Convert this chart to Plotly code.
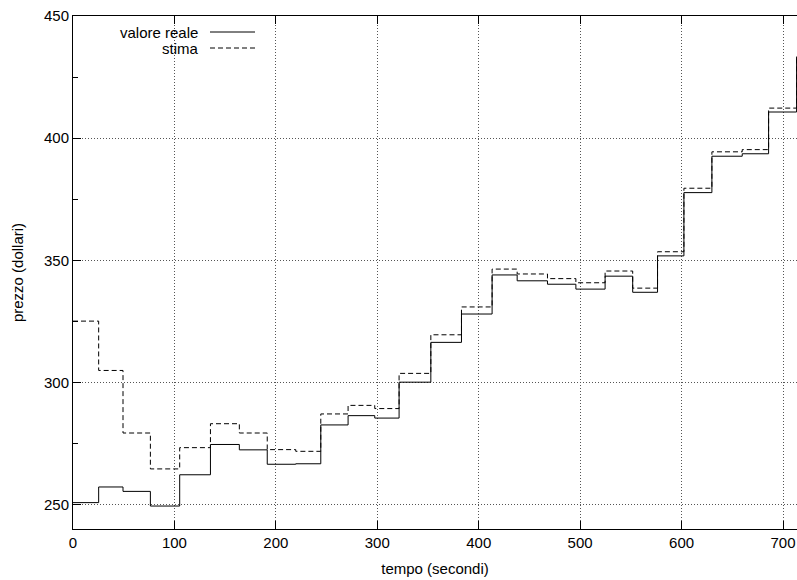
import plotly.graph_objects as go

# Sampling instants (seconds) at which the price is updated
tempo = [0, 25.3, 49.3, 76.3, 105.2, 135.5, 164.0, 191.5, 219.6, 244.3, 271.2,
         297.5, 321.5, 352.8, 383.0, 413.2, 437.9, 467.8, 495.8, 524.6, 551.8,
         576.3, 602.3, 629.9, 659.8, 685.8, 713.4]

# Real price (dollars)
valore_reale = [250.8, 257.2, 255.4, 249.4, 262.2, 274.6, 272.4, 266.5, 266.7,
                282.6, 286.4, 285.4, 300.1, 316.4, 328.0, 344.0, 341.6, 340.2,
                338.2, 343.5, 336.9, 351.8, 377.7, 392.6, 393.6, 410.7, 433.4]

# Estimated price (dollars)
stima = [325.1, 304.9, 279.3, 264.6, 273.3, 283.1, 279.3, 272.5, 271.8, 287.1,
         290.6, 289.3, 303.7, 319.5, 330.9, 346.4, 344.4, 342.5, 340.8, 345.6,
         338.6, 353.5, 379.5, 394.4, 395.3, 412.3, 433.4]

x_ticks = [0, 100, 200, 300, 400, 500, 600, 700]
y_ticks = [250, 300, 350, 400, 450]
x_range = [0, 713.8]
y_range = [240, 450]

legend_labels = ["valore reale", "stima"]

FONT = "Liberation Sans, Arial, Helvetica, sans-serif"
W, H = 797, 580
M_L, M_R, M_T, M_B = 73, 0, 16, 51

fig = go.Figure()
fig.add_trace(go.Scatter(x=tempo, y=valore_reale, mode="lines", name=legend_labels[0],
                         line=dict(shape="hv", color="black", width=1),
                         showlegend=False))
fig.add_trace(go.Scatter(x=tempo, y=stima, mode="lines", name=legend_labels[1],
                         line=dict(shape="hv", color="black", width=1, dash="5px,3px"),
                         showlegend=False))

axis_common = dict(
    showline=True, linecolor="black", linewidth=1,
    showgrid=True, gridcolor="#555555", gridwidth=1, griddash="1px,2px",
    zeroline=False, ticks="inside", ticklen=8, tickcolor="black",
    tickfont=dict(family=FONT, size=15, color="black"),
)

fig.update_xaxes(range=x_range, tickvals=x_ticks, mirror="ticks",
                 title=dict(text="tempo (secondi)", font=dict(family=FONT, size=15, color="black"),
                            standoff=13),
                 **axis_common)
fig.update_yaxes(range=y_range, tickvals=y_ticks, mirror=False,
                 minor=dict(tickvals=[275, 325, 375, 425], ticks="inside", ticklen=5,
                            tickcolor="black", showgrid=False),
                 title=dict(text="prezzo (dollari)", font=dict(family=FONT, size=15, color="black"),
                            standoff=16),
                 **axis_common)

# Key in the upper-left corner: label text right-aligned, line sample to its right
plot_w = W - M_L - M_R
plot_h = H - M_T - M_B


def px_x(p):
    return (p - M_L) / plot_w


def px_y(p):
    return (H - M_B - p) / plot_h


key_rows = [(legend_labels[0], 32, "solid"), (legend_labels[1], 48, "5px,3px")]
for label, yy, dash in key_rows:
    fig.add_annotation(x=px_x(200), y=px_y(yy), xref="paper", yref="paper",
                       text=label, showarrow=False, xanchor="right", yanchor="middle",
                       font=dict(family=FONT, size=15, color="black"))
    fig.add_shape(type="line", xref="paper", yref="paper",
                  x0=px_x(210), x1=px_x(255), y0=px_y(yy), y1=px_y(yy),
                  line=dict(color="black", width=1, dash=dash))

fig.update_layout(
    width=W, height=H,
    margin=dict(l=M_L, r=M_R, t=M_T, b=M_B),
    paper_bgcolor="white", plot_bgcolor="white",
    font=dict(family=FONT, size=15, color="black"),
)

fig.write_html("out.html")
